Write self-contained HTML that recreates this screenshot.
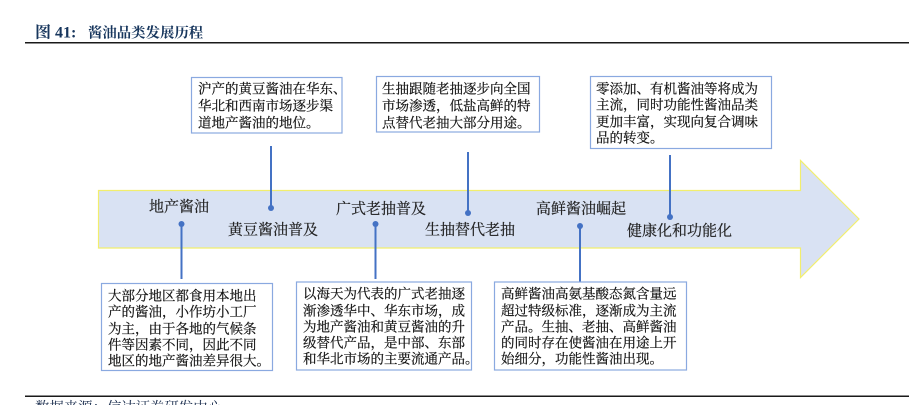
<!DOCTYPE html>
<html lang="zh">
<head>
<meta charset="utf-8">
<style>
html,body{margin:0;padding:0;background:#fff;width:909px;height:405px;overflow:hidden}
svg{display:block}
text{font-family:"Liberation Serif","Noto Serif CJK SC",serif}
.t{font-size:13.5px;fill:#111;stroke:#111;stroke-width:.2px}
.l{font-size:15px;fill:#222;stroke:#222;stroke-width:.2px}
.b{fill:#fff;stroke:#8aa9e0;stroke-width:1.2}
.c{stroke:#4472c4;stroke-width:2;fill:none}
.d{fill:#4472c4}
</style>
</head>
<body>
<svg width="909" height="405" viewBox="0 0 909 405" xmlns="http://www.w3.org/2000/svg">
<text x="35" y="37.5" font-size="16" font-weight="700" fill="#17365d">图 41:</text>
<text x="88" y="37.5" font-size="14.4" font-weight="700" fill="#17365d">酱油品类发展历程</text>
<rect x="25" y="42" width="884" height="1.5" fill="#1a1a1a"/>

<polygon points="98.5,190.5 800.5,190.5 800.5,160.5 859,219 800.5,277.5 800.5,248 98.5,248" fill="#d9e2f3" stroke="#f2ee6e" stroke-width="1.2"/>

<line class="c" x1="271" y1="146" x2="271" y2="208"/><circle class="d" cx="271" cy="208" r="3"/>
<line class="c" x1="468" y1="152" x2="468" y2="213"/><circle class="d" cx="468" cy="213" r="3"/>
<line class="c" x1="670" y1="155" x2="670" y2="217"/><circle class="d" cx="670" cy="217" r="3"/>
<line class="c" x1="181.5" y1="224" x2="181.5" y2="279"/><circle class="d" cx="181.5" cy="224" r="3"/>
<line class="c" x1="375.5" y1="224" x2="375.5" y2="279"/><circle class="d" cx="375.5" cy="224" r="3"/>
<line class="c" x1="580" y1="226" x2="580" y2="282"/><circle class="d" cx="580" cy="226" r="3"/>

<text class="l" x="149" y="211.5">地产酱油</text>
<text class="l" x="228" y="234.5">黄豆酱油普及</text>
<text class="l" x="336" y="213.5">广式老抽普及</text>
<text class="l" x="425" y="234.5">生抽替代老抽</text>
<text class="l" x="536" y="213.5">高鲜酱油崛起</text>
<text class="l" x="627" y="235.5">健康化和功能化</text>

<rect class="b" x="191.5" y="77.5" width="150.5" height="55.5"/>
<text class="t"><tspan x="198" y="93.5">沪产的黄豆酱油在华东、</tspan><tspan x="198" y="110.5">华北和西南市场逐步渠</tspan><tspan x="198" y="127.5">道地产酱油的地位。</tspan></text>

<rect class="b" x="376.5" y="76.5" width="163" height="55.5"/>
<text class="t"><tspan x="382" y="93.5">生抽跟随老抽逐步向全国</tspan><tspan x="382" y="110.5">市场渗透，低盐高鲜的特</tspan><tspan x="382" y="127.5">点替代老抽大部分用途。</tspan></text>

<rect class="b" x="590.5" y="76.5" width="181" height="72"/>
<text class="t"><tspan x="596" y="93.5">零添加、有机酱油等将成为</tspan><tspan x="596" y="109.5">主流，同时功能性酱油品类</tspan><tspan x="596" y="126.5">更加丰富，实现向复合调味</tspan><tspan x="596" y="142.5">品的转变。</tspan></text>

<rect class="b" x="101.5" y="283.5" width="171" height="87"/>
<text class="t"><tspan x="108" y="300.5">大部分地区都食用本地出</tspan><tspan x="108" y="316.5">产的酱油，小作坊小工厂</tspan><tspan x="108" y="333.5">为主，由于各地的气候条</tspan><tspan x="108" y="349.5">件等因素不同，因此不同</tspan><tspan x="108" y="365.5">地区的地产酱油差异很大。</tspan></text>

<rect class="b" x="296.5" y="282" width="175" height="88"/>
<text class="t"><tspan x="303" y="298.5">以海天为代表的广式老抽逐</tspan><tspan x="303" y="315.5">渐渗透华中、华东市场，成</tspan><tspan x="303" y="331.5">为地产酱油和黄豆酱油的升</tspan><tspan x="303" y="347.5">级替代产品，是中部、东部</tspan><tspan x="303" y="363.5">和华北市场的主要流通产品。</tspan></text>

<rect class="b" x="494.5" y="282" width="192" height="88"/>
<text class="t"><tspan x="501" y="298.5">高鲜酱油高氨基酸态氮含量远</tspan><tspan x="501" y="315.5">超过特级标准，逐渐成为主流</tspan><tspan x="501" y="331.5">产品。生抽、老抽、高鲜酱油</tspan><tspan x="501" y="347.5">的同时存在使酱油在用途上开</tspan><tspan x="501" y="363.5">始细分，功能性酱油出现。</tspan></text>

<rect x="25" y="395.5" width="884" height="1.5" fill="#1a1a1a"/>
<text x="35" y="412" font-size="14.4" fill="#1c2f4f">数据来源：信达证券研发中心</text>
</svg>
</body>
</html>
